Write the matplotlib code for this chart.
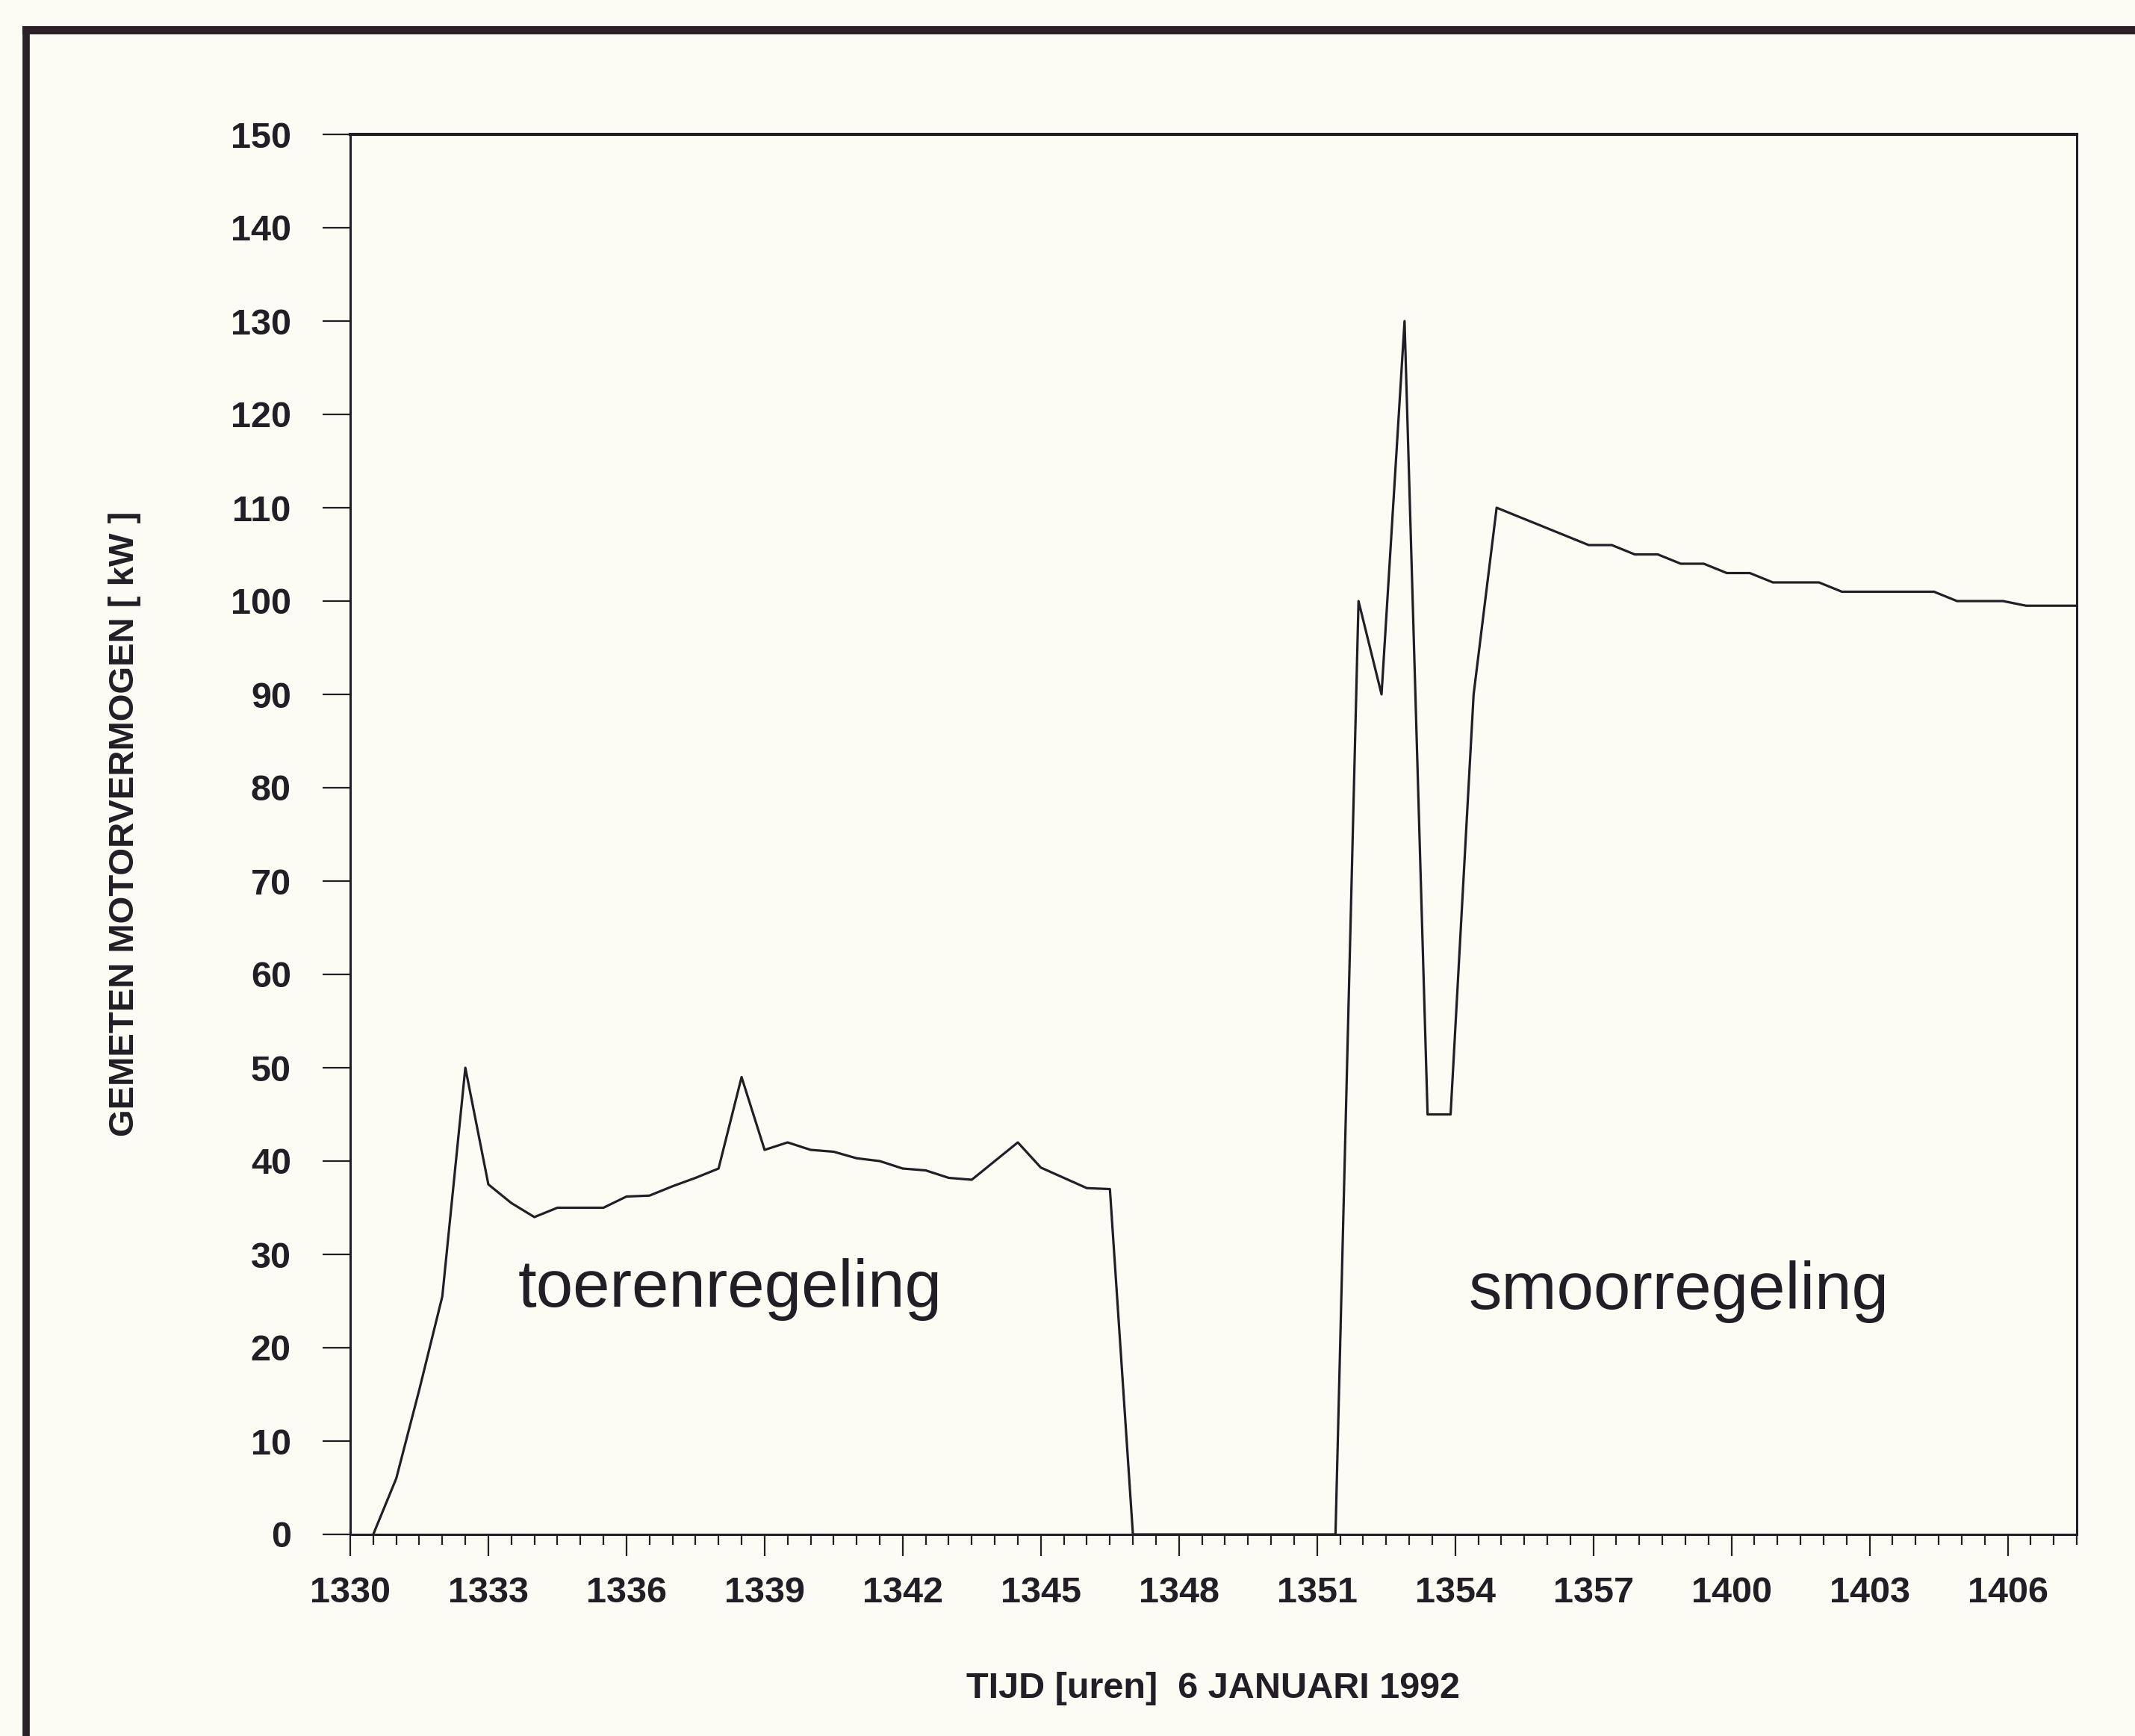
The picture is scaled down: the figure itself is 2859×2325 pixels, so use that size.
import matplotlib
matplotlib.use("Agg")
import matplotlib.pyplot as plt
from matplotlib.lines import Line2D
import numpy as np

# ---- data (minutes after 13:30, measured motor power in kW) ----
time_min = [0.5, 1.0, 1.5, 2.0, 2.5, 3.0, 3.5, 4.0, 4.5, 5.0, 5.5, 6.0, 6.5,
            7.0, 7.5, 8.0, 8.5, 9.0, 9.5, 10.0, 10.5, 11.0, 11.5, 12.0, 12.5,
            13.0, 13.5, 14.0, 14.5, 15.0, 15.5, 16.0, 16.5, 17.0,
            21.4, 21.9, 22.4, 22.9, 23.4, 23.9, 24.4, 24.9, 25.4, 25.9, 26.4,
            26.9, 27.4, 27.9, 28.4, 28.9, 29.4, 29.9, 30.4, 30.9, 31.4, 31.9,
            32.4, 32.9, 33.4, 33.9, 34.4, 34.9, 35.4, 35.9, 36.4, 36.9, 37.5]
power_kw = [0, 6, 15.5, 25.5, 50, 37.5, 35.5, 34, 35, 35, 35, 36.2, 36.3,
            37.3, 38.2, 39.2, 49, 41.2, 42, 41.2, 41, 40.3, 40, 39.2, 39,
            38.2, 38, 40, 42, 39.3, 38.2, 37.1, 37, 0,
            0, 100, 90, 130, 45, 45, 90, 110, 109, 108, 107,
            106, 106, 105, 105, 104, 104, 103, 103, 102, 102, 102,
            101, 101, 101, 101, 101, 100, 100, 100, 99.5, 99.5, 99.5]

xtick_pos = [0, 3, 6, 9, 12, 15, 18, 21, 24, 27, 30, 33, 36]
xtick_labels = ["1330", "1333", "1336", "1339", "1342", "1345", "1348",
                "1351", "1354", "1357", "1400", "1403", "1406"]
ytick_pos = list(range(0, 151, 10))

annotations = [("toerenregeling", 8.25, 24.4), ("smoorregeling", 28.85, 24.2)]
xlabel = "TIJD [uren]  6 JANUARI 1992"
ylabel = "GEMETEN MOTORVERMOGEN [ kW ]"

# ---- style ----
bg = "#fdfcf4"
ink = "#231e26"
W, H, DPI = 2859, 2325, 100
plt.rcParams['font.family'] = ['Liberation Sans', 'DejaVu Sans']

fig = plt.figure(figsize=(W / DPI, H / DPI), dpi=DPI, facecolor=bg)
ax = fig.add_axes([469 / W, (H - 2055) / H, 2312 / W, 1875 / H])
ax.set_facecolor(bg)

ax.plot(time_min, power_kw, color=ink, lw=2.3, zorder=3, clip_on=False)

ax.set_xlim(0, 37.5)
ax.set_ylim(0, 150)

ax.set_xticks(xtick_pos)
ax.set_xticklabels(xtick_labels)
ax.set_xticks(np.arange(0, 37.51, 0.5), minor=True)
ax.set_yticks(ytick_pos)
ax.set_yticklabels([str(v) for v in ytick_pos])

ax.tick_params(axis='x', which='major', direction='out', length=21, width=1.6,
               color=ink, pad=19, labelsize=35, labelcolor=ink)
ax.tick_params(axis='x', which='minor', direction='out', length=10, width=1.6,
               color=ink)
ax.tick_params(axis='y', which='major', direction='out', length=27, width=1.6,
               color=ink, pad=30, labelsize=35, labelcolor=ink)
for lab in ax.get_xticklabels() + ax.get_yticklabels():
    lab.set_fontweight('bold')

for s in ax.spines.values():
    s.set_color(ink)
    s.set_linewidth(2.2)
ax.spines['top'].set_linewidth(3.0)

for txt, x, y in annotations:
    ax.text(x, y, txt, ha='center', va='baseline', fontsize=64, color=ink)

ax.text(0.5, -0.11, xlabel, transform=ax.transAxes, ha='center', va='center',
        fontsize=35, fontweight='bold', color=ink)
ax.text(-0.1306, 0.5077, ylabel, transform=ax.transAxes, ha='center',
        va='center', rotation=90, fontsize=34, fontweight='bold', color=ink)

# scanned page frame (top and left edges)
fig.add_artist(Line2D([35 / W, 1.0], [1 - 40 / H, 1 - 40 / H],
                      transform=fig.transFigure, color="#2a2228", lw=8))
fig.add_artist(Line2D([35 / W, 35 / W], [0.0, 1 - 40 / H],
                      transform=fig.transFigure, color="#2a2228", lw=7))

fig.savefig("out.png", dpi=DPI, facecolor=bg)
